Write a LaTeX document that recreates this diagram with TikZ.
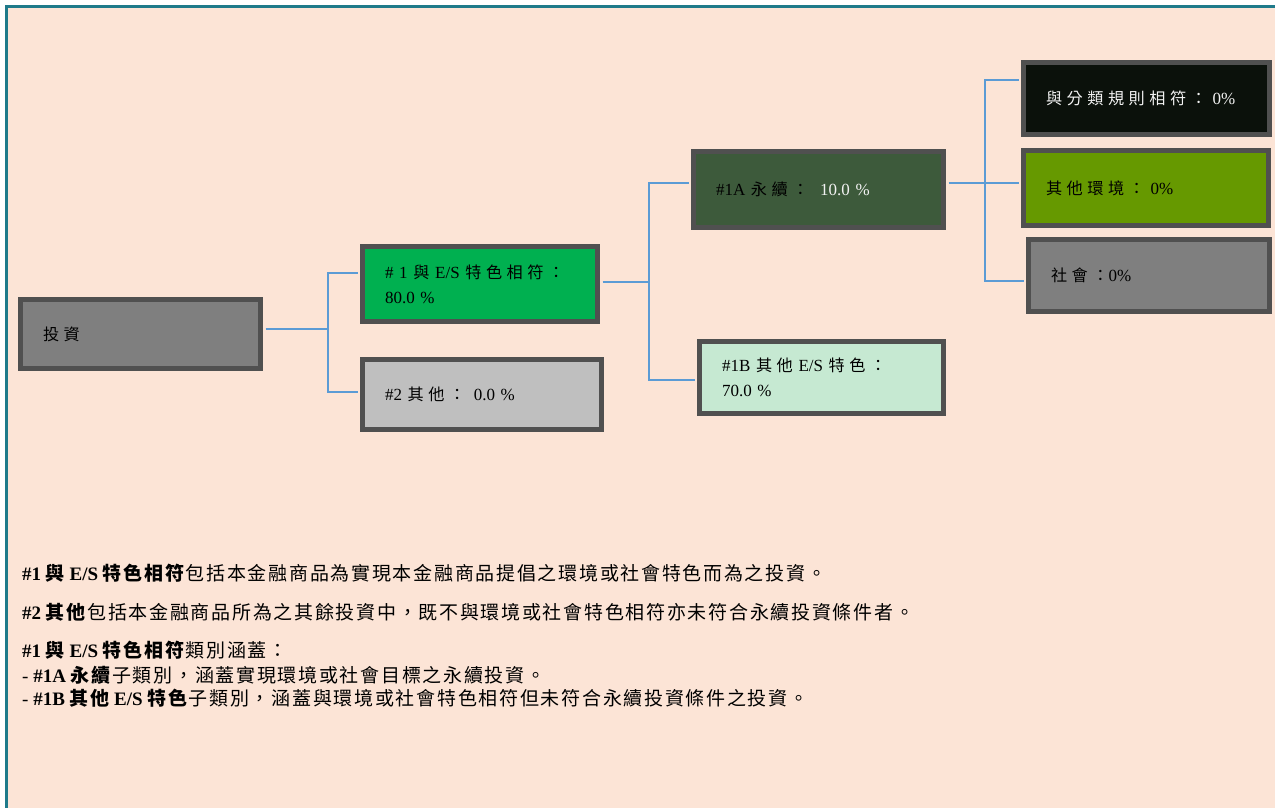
\documentclass[tikz,border=0pt]{standalone}
\usepackage{fontspec}
\setmainfont{Liberation Serif}
\newfontfamily\cjkbox{Noto Sans CJK TC}[Scale=0.95,LetterSpace=28]
\newfontfamily\cjktxt{Noto Sans CJK TC}[LetterSpace=9]
\newcommand\zb[1]{{\cjkbox #1}}
\newcommand\zt[1]{{\cjktxt #1}}
\usetikzlibrary{calc}
\definecolor{peach}{HTML}{FCE4D6}
\definecolor{frame}{HTML}{1F7A8A}
\definecolor{boxline}{HTML}{505050}
\definecolor{conblue}{HTML}{5B9BD5}
\definecolor{cinv}{HTML}{7F7F7F}
\definecolor{cone}{HTML}{00B050}
\definecolor{ctwo}{HTML}{BFBFBF}
\definecolor{conea}{HTML}{3D5A3B}
\definecolor{coneb}{HTML}{C6E9D2}
\definecolor{ctax}{HTML}{0B110B}
\definecolor{coenv}{HTML}{669900}
\definecolor{csoc}{HTML}{7F7F7F}
\definecolor{lighttext}{HTML}{F2F2F2}
\tikzset{
  catbox/.style n args={2}{draw=boxline, line width=5pt, rectangle,
    minimum width=#1-5pt, minimum height=#2-5pt, text width=#1-50pt,
    inner xsep=22.5pt, inner ysep=0pt, align=left,
    font=\fontsize{17}{25}\selectfont},
  conn/.style={draw=conblue, line width=2pt, shorten >=2.5pt},
  conn0/.style={draw=conblue, line width=2pt, shorten <=2.5pt},
  note/.style={anchor=base west, inner sep=0pt, font=\fontsize{19}{23}\selectfont}
}
\begin{document}
\begin{tikzpicture}[x=1pt,y=-1pt]
\useasboundingbox (0,0) rectangle (1275,808);
\fill[white] (0,0) rectangle (1275,808);
\fill[peach] (7,7) rectangle (1275,808);
\draw[frame, line width=2.5pt] (6.5,808) -- (6.5,6.5) -- (1275,6.5);

% boxes
\node[catbox={245pt}{74pt}, fill=cinv] (inv) at (140.5,334) {\zb{投資}};
\node[catbox={240pt}{80pt}, fill=cone] (c1) at (480,284) {\# 1 \zb{與} E/S \zb{特色相符：}\\80.0 \%};
\node[catbox={244pt}{75pt}, fill=ctwo] (c2) at (482,394.5) {\#2 \zb{其他：}\hspace{3pt} 0.0 \%};
\node[catbox={255pt}{81pt}, fill=conea] (c1a) at (818.5,189.5) {\#1A \zb{永續：}\hspace{6pt} \textcolor{lighttext}{10.0 \%}};
\node[catbox={249pt}{77pt}, fill=coneb] (c1b) at (821.5,377.5) {\#1B \zb{其他} E/S \zb{特色：}\\70.0 \%};
\node[catbox={251pt}{77pt}, fill=ctax, text=lighttext] (tax) at (1146.5,98.5) {\zb{與分類規則相符：} 0\%};
\node[catbox={250pt}{80pt}, fill=coenv] (oenv) at (1146,188) {\zb{其他環境：} 0\%};
\node[catbox={246pt}{77pt}, fill=csoc] (soc) at (1149,275.5) {\zb{社會：}0\%};

% junctions
\coordinate (j1) at (328,329);
\coordinate (j2) at (649,282);
\coordinate (j3) at (985,183);

% connectors
\draw[conn0] ($(inv.east)+(0,-5)$) -- (j1);
\draw[conn] (j1) |- ($(c1.west)+(0,-11)$);
\draw[conn] (j1) |- ($(c2.west)+(0,-2.5)$);
\draw[conn0] ($(c1.east)+(0,-2)$) -- (j2);
\draw[conn] (j2) |- ($(c1a.west)+(0,-6.5)$);
\draw[conn] (j2) |- ($(c1b.west)+(0,2.5)$);
\draw[conn0] ($(c1a.east)+(0,-6.5)$) -- (j3);
\draw[conn] (j3) |- ($(tax.west)+(0,-18.5)$);
\draw[conn] (j3) |- ($(oenv.west)+(0,-5)$);
\draw[conn] (j3) |- ($(soc.west)+(0,5.5)$);

% notes
\node[note] (n1) at (22,580) {\textbf{\#1 \zt{與} E/S \zt{特色相符}}\zt{包括本金融商品為實現本金融商品提倡之環境或社會特色而為之投資。}};
\node[note] (n2) at (22,619) {\textbf{\#2 \zt{其他}}\zt{包括本金融商品所為之其餘投資中，既不與環境或社會特色相符亦未符合永續投資條件者。}};
\node[note] (n3) at (22,657) {\textbf{\#1 \zt{與} E/S \zt{特色相符}}\zt{類別涵蓋：}};
\node[note] (n4) at (22,682) {- \textbf{\#1A \zt{永續}}\zt{子類別，涵蓋實現環境或社會目標之永續投資。}};
\node[note] (n5) at (22,705) {- \textbf{\#1B \zt{其他} E/S \zt{特色}}\zt{子類別，涵蓋與環境或社會特色相符但未符合永續投資條件之投資。}};
\end{tikzpicture}
\end{document}
